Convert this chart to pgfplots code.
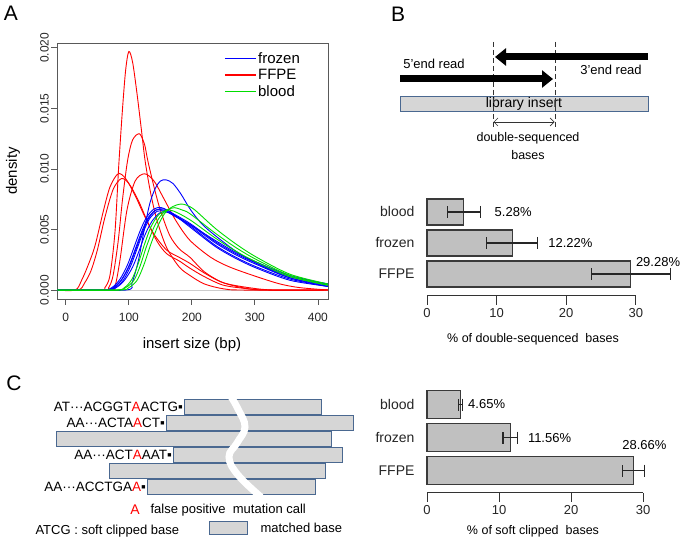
\documentclass[border=0pt]{standalone}
\usepackage{fontspec}
\setmainfont{Liberation Sans}
\usepackage{xcolor}
\usepackage{tikz}
\usetikzlibrary{arrows.meta}
\usepackage{pgfplots}
\pgfplotsset{compat=1.18}
\definecolor{rred}{HTML}{FF0000}
\definecolor{rblue}{HTML}{0000FF}
\definecolor{rgreen}{HTML}{00DD00}
\definecolor{barfill}{HTML}{C0C0C0}
\definecolor{bardraw}{HTML}{3A3A3A}
\definecolor{boxfill}{HTML}{D6D6D6}
\definecolor{boxdraw}{HTML}{4A6890}
\newcommand{\fs}[1]{\fontsize{#1}{#1}\selectfont}
\pgfplotsset{
  dens/.style={smooth, tension=0.5, line width=0.9pt, forget plot},
  hbars/.style={
    scale only axis, anchor=south west, clip=false,
    xmin=0, xmax=30, xtick={0,10,20,30},
    ytick={0,1,2}, yticklabels={FFPE,frozen,blood},
    axis x line*=bottom, axis y line*=left,
    y axis line style={draw=none}, ytick style={draw=none},
    x axis line style={line width=1pt, black!80},
    xtick style={line width=1pt, black!80},
    tick align=outside, major tick length=9pt,
    /pgf/number format/assume math mode=true,
    xticklabel style={font=\fs{13}, text=black!85},
    yticklabel style={font=\fs{14}, text=black!85},
  },
  hbar/.style={xbar, bar width=#1, fill=barfill, draw=bardraw, line width=1.1pt,
    error bars/.cd, x dir=both, x explicit, error mark=|,
    error bar style={line width=1.1pt, black!85},
    error mark options={line width=1.1pt, mark size=6pt, black!85}},
}
\begin{document}
\begin{tikzpicture}
\path[use as bounding box, fill=white] (0pt,0pt) rectangle (683pt,541pt);

% ---------------- panel A ----------------
\begin{axis}[
  at={(57pt,242pt)}, anchor=south west, scale only axis,
  width=271pt, height=256pt,
  xmin=-14, xmax=416, ymin=-0.00074, ymax=0.0204,
  xtick={0,100,200,300,400},
  ytick={0,0.005,0.01,0.015,0.02},
  scaled y ticks=false,
  tick align=outside, tick pos=left, major tick length=6pt,
  axis line style={black!65, line width=0.8pt},
  tick style={black!65, line width=0.8pt},
  /pgf/number format/assume math mode=true,
  tick label style={font=\fs{12}, text=black!85},
  yticklabel style={rotate=90, anchor=south, inner sep=2pt,
    /pgf/number format/fixed, /pgf/number format/precision=3,
    /pgf/number format/fixed zerofill},
  xticklabel style={yshift=-5pt},
  legend style={draw=none, fill=none, at={(axis cs:246,0.01995)}, anchor=north west,
    font=\fs{15}, row sep=1.5pt, nodes={inner sep=1.5pt}},
  legend cell align=left,
  legend image code/.code={\draw[#1] (0pt,0pt) -- (31pt,0pt);},
]
\addlegendimage{rblue, line width=1.4pt}\addlegendentry{frozen}
\addlegendimage{rred, line width=1.4pt}\addlegendentry{FFPE}
\addlegendimage{rgreen, line width=1.6pt}\addlegendentry{blood}
\addplot[gray!40, line width=0.6pt, forget plot] coordinates {(-14,0) (416,0)};
% FFPE
\addplot[rred, dens] coordinates {(-14,0) (55,0) (62,0.0002) (70,0.0012) (78,0.0048) (84,0.0103) (90,0.0150) (95,0.0182) (100,0.0197) (106,0.0188) (113,0.0162) (120,0.0132) (126,0.0106) (135,0.0079) (145,0.0057) (160,0.0035) (180,0.0019) (197,0.0012) (220,0.0005) (250,0.0001) (280,0) (416,0)};
\addplot[rred, dens] coordinates {(-14,0) (60,0) (68,0.0002) (75,0.0012) (83,0.0040) (90,0.0075) (98,0.0107) (106,0.0124) (117,0.0129) (125,0.0120) (130,0.0107) (140,0.0085) (150,0.0066) (165,0.0045) (180,0.0034) (197,0.0027) (220,0.0015) (250,0.0006) (290,0.0001) (320,0) (416,0)};
\addplot[rred, dens] coordinates {(-14,0) (70,0) (78,0.0003) (86,0.0025) (97,0.0066) (110,0.0090) (125,0.0096) (140,0.0090) (155,0.0076) (175,0.0057) (197,0.0041) (230,0.0027) (260,0.0019) (303,0.0011) (340,0.0005) (371,0.0002) (416,0)};
\addplot[rred, dens] coordinates {(-14,0) (15,0) (25,0.0008) (35,0.0020) (46,0.0036) (59,0.0064) (70,0.0085) (83,0.0096) (95,0.0092) (110,0.0078) (125,0.0061) (140,0.0046) (160,0.0033) (180,0.0027) (197,0.0022) (220,0.0014) (250,0.0006) (290,0.0002) (330,0) (416,0)};
\addplot[rred, dens] coordinates {(-14,0) (20,0) (30,0.0006) (40,0.0016) (50,0.0033) (62,0.0060) (75,0.0083) (88,0.0092) (100,0.0088) (115,0.0074) (130,0.0056) (145,0.0040) (160,0.0030) (180,0.0024) (197,0.0018) (220,0.0011) (250,0.0004) (290,0.0001) (320,0) (416,0)};
% frozen
\addplot[rblue, dens] coordinates {(-14,0) (95,0) (105,0.0006) (115,0.0024) (123,0.0046) (133,0.0071) (142,0.0084) (150,0.0090) (159,0.0091) (170,0.0088) (183,0.0079) (197,0.0067) (215,0.0055) (237,0.0045) (270,0.0032) (303,0.0022) (356,0.0010) (416,0.0003)};
\addplot[rblue, dens] coordinates {(-14,0) (60,0) (75,0.0002) (88,0.0008) (100,0.0019) (110,0.0032) (120,0.0046) (130,0.0058) (142,0.0066) (155,0.0066) (170,0.0062) (197,0.0053) (237,0.0037) (270,0.0027) (303,0.0019) (356,0.0009) (416,0.0003)};
\addplot[rblue, dens] coordinates {(-14,0) (62,0) (78,0.0002) (91,0.0008) (103,0.0020) (113,0.0034) (123,0.0048) (133,0.0059) (145,0.0065) (158,0.0065) (173,0.0061) (197,0.0054) (237,0.0039) (270,0.0029) (303,0.0021) (356,0.0010) (416,0.0004)};
\addplot[rblue, dens] coordinates {(-14,0) (58,0) (73,0.0002) (86,0.0009) (98,0.0021) (108,0.0035) (118,0.0049) (128,0.0060) (140,0.0067) (152,0.0068) (167,0.0064) (197,0.0055) (237,0.0040) (270,0.0030) (303,0.0022) (356,0.0011) (416,0.0005)};
\addplot[rblue, dens] coordinates {(-14,0) (65,0) (80,0.0002) (93,0.0008) (106,0.0019) (116,0.0032) (126,0.0046) (137,0.0057) (150,0.0064) (163,0.0064) (178,0.0060) (197,0.0054) (237,0.0041) (270,0.0031) (303,0.0023) (356,0.0012) (416,0.0005)};
\addplot[rblue, dens] coordinates {(-14,0) (60,0) (76,0.0002) (89,0.0009) (101,0.0021) (111,0.0035) (121,0.0049) (131,0.0060) (143,0.0066) (156,0.0067) (170,0.0063) (197,0.0052) (237,0.0036) (270,0.0026) (303,0.0018) (356,0.0008) (416,0.0003)};
% blood
\addplot[rgreen, dens] coordinates {(-14,0) (80,0) (95,0.0002) (108,0.0008) (118,0.0020) (128,0.0036) (140,0.0052) (150,0.0061) (160,0.0066) (172,0.0068) (185,0.0066) (197,0.0063) (237,0.0047) (270,0.0035) (303,0.0025) (356,0.0012) (416,0.0004)};
\addplot[rgreen, dens] coordinates {(-14,0) (85,0) (100,0.0002) (113,0.0008) (124,0.0021) (135,0.0038) (147,0.0054) (158,0.0064) (170,0.0069) (182,0.0071) (192,0.0070) (205,0.0066) (237,0.0051) (270,0.0038) (303,0.0027) (356,0.0013) (416,0.0005)};
\addplot[rgreen, dens] coordinates {(-14,0) (78,0) (93,0.0002) (105,0.0009) (115,0.0022) (125,0.0038) (135,0.0052) (147,0.0062) (160,0.0066) (172,0.0065) (197,0.0058) (237,0.0043) (270,0.0032) (303,0.0023) (356,0.0011) (416,0.0004)};
\end{axis}

% ---------------- panel B bars ----------------
\begin{axis}[hbars, at={(427pt,245pt)}, width=208.8pt, height=99.5pt,
  ymin=-0.71, ymax=2.5]
\addplot[hbar=26pt] coordinates {(29.28,0) +- (5.70,0) (12.22,1) +- (3.65,0) (5.28,2) +- (2.35,0)};
\node[anchor=west, font=\fs{13}, inner sep=0pt] at (axis cs:9.7,2) {5.28\%};
\node[anchor=west, font=\fs{13}, inner sep=0pt] at (axis cs:17.4,1) {12.22\%};
\node[anchor=west, font=\fs{13}, inner sep=0pt] at (axis cs:30.0,0.39) {29.28\%};
\end{axis}

% ---------------- panel C bars ----------------
\begin{axis}[hbars, at={(427pt,48pt)}, width=216pt, height=105pt,
  ymin=-0.68, ymax=2.5]
\addplot[hbar=28pt] coordinates {(28.66,0) +- (1.50,0) (11.56,1) +- (1.00,0) (4.65,2) +- (0.25,0)};
\node[anchor=west, font=\fs{13}, inner sep=0pt] at (axis cs:5.7,2) {4.65\%};
\node[anchor=west, font=\fs{13}, inner sep=0pt] at (axis cs:14.0,1) {11.56\%};
\node[anchor=west, font=\fs{13}, inner sep=0pt] at (axis cs:27.1,0.77) {28.66\%};
\end{axis}

\begin{scope}[x=1pt, y=1pt]
% labels of panel A
\node[font=\fs{21}] at (11,528) {A};
\node[font=\fs{15}] at (192,196) {insert size (bp)};
\node[font=\fs{15}, rotate=90] at (13,370) {density};

% diagram of panel B
\node[font=\fs{21}] at (398,527) {B};
\fill[boxfill, draw=boxdraw, line width=0.8pt] (400,430) rectangle (648,445);
\node[font=\fs{14}] at (524,437.5) {library insert};
\draw[black!80, line width=0.8pt, dash pattern=on 5pt off 3pt] (493,499) -- (493,413);
\draw[black!80, line width=0.8pt, dash pattern=on 5pt off 3pt] (555,499) -- (555,413);
\draw[line width=7pt, -{Triangle[length=11pt, width=17pt]}] (648,484) -- (495,484);
\draw[line width=7pt, -{Triangle[length=11pt, width=17pt]}] (400,462) -- (553,462);
\draw[black!80, line width=0.7pt, {Straight Barb[length=4pt, width=8pt]}-{Straight Barb[length=4pt, width=8pt]}] (493.5,419) -- (554.5,419);
\node[font=\fs{13}] at (434,477) {5'end read};
\node[font=\fs{13}] at (611,471) {3'end read};
\node[font=\fs{12.5}] at (528,403) {double-sequenced};
\node[font=\fs{12.5}] at (528,386) {bases};
\node[font=\fs{12.5}] at (533,202) {\% of double-sequenced\ \ bases};

% diagram of panel C
\node[font=\fs{21}] at (14,158) {C};
\begin{scope}[boxdraw, line width=0.8pt]
\filldraw[fill=boxfill] (184,127) rectangle (321,142);
\filldraw[fill=boxfill] (166,111) rectangle (353,126);
\filldraw[fill=boxfill] (56,95) rectangle (331,110);
\filldraw[fill=boxfill] (173,79) rectangle (342,94);
\filldraw[fill=boxfill] (109,63) rectangle (325,78);
\filldraw[fill=boxfill] (147,47) rectangle (315,62);
\end{scope}
\draw[white, line width=7pt] plot[smooth, tension=0.7] coordinates {(230,146) (238,132) (245,114) (237,98) (229,84) (238,66) (261,44)};
\node[anchor=east, font=\fs{13.5}, inner sep=1pt] at (184,134.5) {AT···ACGGT\textcolor{rred}{A}ACTG▪};
\node[anchor=east, font=\fs{13.5}, inner sep=1pt] at (166,118.5) {AA···ACTA\textcolor{rred}{A}CT▪};
\node[anchor=east, font=\fs{13.5}, inner sep=1pt] at (173,86.5) {AA···ACT\textcolor{rred}{A}AAT▪};
\node[anchor=east, font=\fs{13.5}, inner sep=1pt] at (147,54.5) {AA···ACCTGA\textcolor{rred}{A}▪};
\node[font=\fs{14}, text=rred] at (135,31) {A};
\node[anchor=west, font=\fs{13}] at (147,31) {false positive\ \ mutation call};
\node[anchor=west, font=\fs{13}] at (32,10) {ATCG : soft clipped base};
\filldraw[fill=boxfill, draw=boxdraw, line width=0.8pt] (209,7) rectangle (247,20);
\node[anchor=west, font=\fs{13}] at (257,13) {matched base};
\node[font=\fs{12.5}] at (533,10) {\% of soft clipped\ \ bases};
\end{scope}
\end{tikzpicture}
\end{document}
